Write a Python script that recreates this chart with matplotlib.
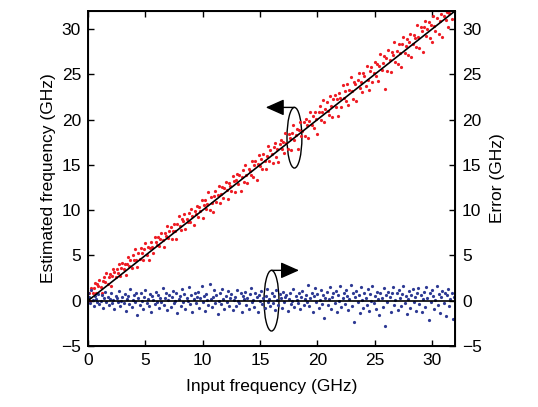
import numpy as np
import matplotlib
matplotlib.use("Agg")
import matplotlib.pyplot as plt
from matplotlib.patches import Ellipse

# deviation of the estimate from the input (red points sit at input + deviation)
est_dev = [
    0.3, 0.8, -0.2, 1.1, 0.5, 0.9, 1.4, 0.2, 1.0, 0.7, 1.3, 0.4, -0.3, 0.9, 1.2, 0.6, 1.5, 0.1, 0.8, 1.1, -0.4, 0.6, 1.3, 0.9, 0.2, 1.0, 0.5, 1.4, -0.1, 0.7, 1.2, 0.4,
    0.9, -0.5, 0.6, 1.3, 0.2, 0.8, -0.2, 1.1, 0.5, 1.6, 0.3, -0.6, 0.9, 0.1, 1.2, 0.6, -0.3, 0.8, 1.4, 0.0, 0.7, -0.8, 0.4, 1.0, 0.3, -0.4, 1.2, 0.6, 0.1, 0.9, -0.2, 0.5,
    1.1, 0.2, -0.7, 0.8, 0.4, 1.3, -0.1, 0.6, 0.9, -0.5, 0.3, 1.0, 0.1, -0.9, 0.7, 1.4, 0.2, -0.3, 0.8, 0.5, 1.2, -0.6, 0.4, 0.0, 0.9, -0.2, 1.1, 0.3, -0.8, 0.6, 0.2, 1.0,
    -0.4, 0.7, 0.1, 1.2, -0.9, 0.5, 0.9, -0.2, 0.3, 1.5, -0.6, 0.8, 0.0, -1.1, 0.6, 1.0, -0.3, 0.4, 1.3, -0.7, 0.2, 0.9, -0.5, 0.6, 1.1, 0.1, -1.0, 0.7, 0.3, -0.4, 1.2, 0.5,
    -0.8, 0.4, 1.0, -0.2, 0.7, -1.2, 0.3, 0.9, -0.5, 1.3, 0.1, -0.9, 0.6, 0.2, -0.3, 1.1, -0.7, 0.5, 0.8, -1.4, 0.3, 1.2, -0.1, 0.6, -0.6, 0.9, 0.0, -1.0, 0.4, 1.4, -0.4, 0.7,
    0.2, -0.9, 0.8, 1.1, -0.5, 0.3, -1.3, 0.6, 1.0, -0.2, 0.5, -0.8, 1.3, 0.1, -0.6, 0.9, 0.4, -1.1, 0.7, 1.5, -0.3, 0.2, 0.8, -1.5, 0.5, 1.2, -0.4, 0.0, 0.9, -0.7, 1.1, 0.3,
    -1.2, 0.6, 1.4, -0.1, 0.8, -0.6, 1.0, 0.2, -1.6, 0.7, 1.3, -0.3, 0.4, 1.7, -0.9, 0.5, 1.1, 0.0, -0.5, 1.5, 0.3, -1.0, 0.9, 1.2, -0.2, 0.6, -1.4, 1.0, 0.4, -0.7, 1.6, 0.1,
    0.8, -0.4, 1.3, -1.1, 0.5, 1.8, 0.2, -0.8, 1.0, 0.6, -1.3, 0.9, 1.5, -0.2, 0.4, -0.9, 1.2, 0.7, -0.5, 1.6, 0.0, -1.2, 0.8, 1.1, -0.6, 0.3, 1.4, -0.3, 0.9, -1.0, 0.5, 1.7,
    -0.1, 0.6, 1.2, -2.5, 0.8, -0.7, 1.5, 0.3, -1.1, 1.0, 0.5, 1.9, -0.4, 0.7, -0.9, 1.3, 0.2, -1.5, 0.9, 1.6, -0.2, 0.4, 1.1, -0.8, 0.6, 1.4, -1.3, 0.0, 1.0, 0.5, -0.6, 1.8,
    0.3, -1.0, 1.2, 0.7, -1.7, 0.9, 1.5, -0.3, 0.4, 1.1, -0.8, 0.6, -1.4, 1.3, 0.1, -0.5, 0.8, 1.6, -1.1, 0.2, 0.9, -1.8, 0.5, 1.0, -0.2, 0.6, -1.2, 0.3, 0.8, -0.6, 0.4, 0.1,
]

# error values (blue points)
error = [
    0.9, 0.4, -0.3, 1.2, 0.1, -0.6, 0.5, 0.2, -0.2, 0.7, -0.4, 0.0, 0.6, -0.8, 0.3, 1.0, -0.1, 0.4, -0.5, 0.2, 0.8, -0.3, 0.1, -0.9, 0.5, 0.3, -0.2, 1.1, -0.6, 0.0, 0.4, -0.3,
    0.7, -1.1, 0.2, 0.5, -0.4, 1.3, -0.7, 0.1, 0.6, -0.2, 0.9, -1.6, 0.3, -0.5, 0.8, 0.0, -0.9, 0.4, 1.2, -0.3, 0.2, -0.6, 0.7, -1.3, 0.5, 0.1, -0.4, 1.0, -0.1, 0.6, -0.8, 0.3,
    -0.2, 1.4, -0.5, 0.3, 0.8, -1.0, 0.1, 0.6, -0.7, 0.4, 1.1, -0.3, 0.0, 0.9, -1.4, 0.2, 0.5, -0.6, 1.3, -0.1, 0.7, -0.9, 0.3, 0.0, 1.5, -0.4, 0.6, -1.2, 0.2, 0.8, -0.3, 0.4,
    1.0, -0.8, 0.3, 1.6, -0.2, 0.5, -1.1, 0.7, 0.1, -0.5, 1.8, 0.2, -0.7, 0.4, 1.2, -0.3, 0.6, -1.5, 0.0, 0.9, -0.4, 1.3, 0.2, -0.9, 0.5, -0.1, 1.1, -0.6, 0.3, 0.7, -1.0, 0.1,
    0.4, -0.6, 1.2, 0.0, -0.3, 0.8, -1.2, 0.5, 0.2, 1.0, -0.5, 0.3, -0.9, 0.7, 1.4, -0.2, 0.1, -0.7, 0.9, 0.4, -1.3, 0.6, 0.0, 1.1, -0.4, 0.3, -0.8, 0.5, 1.3, -0.1, 0.2, -0.6,
    0.8, -0.3, 0.5, -1.0, 1.2, 0.1, -0.5, 0.7, 0.3, -0.8, 1.0, -0.2, 0.4, 0.6, -1.1, 0.2, 0.9, -0.4, 0.0, 1.3, -0.7, 0.5, 0.1, -0.3, 0.8, -0.9, 0.4, 1.1, -0.5, 0.2, 0.6, -0.1,
    1.7, -0.6, 0.3, 0.9, -1.2, 0.5, 1.4, -0.2, 0.7, -0.8, 0.1, 1.2, -0.4, 0.6, -1.9, 0.3, 1.0, -0.5, 0.2, 1.5, -0.9, 0.4, 0.8, -0.3, 1.1, -1.3, 0.6, 0.0, 1.6, -0.7, 0.3, 0.9,
    -0.4, 1.2, 0.5, -1.0, 0.2, 1.7, -0.6, 0.8, -2.4, 0.4, 1.1, -0.2, 0.6, -1.4, 1.5, 0.1, -0.8, 0.9, 0.3, -0.5, 1.3, -1.1, 0.7, 0.0, 1.6, -0.3, 0.5, -0.9, 1.0, 0.2, -1.6, 0.8,
    0.3, -0.7, 1.4, -2.8, 0.6, -0.2, 1.0, 0.4, -1.2, 0.8, 1.5, -0.5, 0.1, 0.9, -1.0, 1.2, 0.3, -0.6, 0.7, 1.6, -0.3, 0.5, -1.5, 0.2, 1.1, -0.8, 0.6, 1.3, -0.1, 0.4, -1.1, 0.9,
    1.4, -0.4, 0.6, -1.3, 0.2, 1.0, -0.7, 1.5, 0.3, -2.1, 0.8, -0.2, 1.2, 0.5, -0.9, 0.1, 1.6, -0.5, 0.7, -1.4, 0.4, 1.1, -0.3, 0.9, -1.7, 0.6, 1.3, -0.6, 0.2, 0.8, -2.0, 0.4,
]

# input frequency sweep, 0.1 GHz steps
f_red = np.arange(len(est_dev)) * 0.1
f_blue = np.arange(len(error)) * 0.1
estimated = f_red + np.array(est_dev)

xticks = [0, 5, 10, 15, 20, 25, 30]
yticks = [-5, 0, 5, 10, 15, 20, 25, 30]

plt.rcParams["font.family"] = ["Liberation Sans", "DejaVu Sans"]
plt.rcParams["font.size"] = 12.5

fig = plt.figure(figsize=(5.38, 4.07), dpi=100)
ax = fig.add_axes([0.1636, 0.150, 0.6821, 0.823])

ax.plot(f_red, estimated, ".", color="#ee1c24", ms=4.6, mew=0)
ax.plot(f_blue, error, ".", color="#2e3a94", ms=4.6, mew=0)
ax.plot([0, 32], [0, 32], color="black", lw=1.2)
ax.plot([0, 32], [0, 0], color="black", lw=1.2)

# ellipse + arrow markers (which axis each series belongs to)
for cx, cy, tip in [(18.0, 18.0, 15.5), (16.0, 0.0, 18.4)]:
    ax.add_patch(Ellipse((cx, cy), 1.3, 6.7, fill=False, ec="black", lw=1.0))
    ax.annotate("", xy=(tip, cy + 3.35), xytext=(cx, cy + 3.35),
                arrowprops=dict(arrowstyle="-|>,head_length=0.9,head_width=0.4",
                                color="black", lw=1.0, shrinkA=0, shrinkB=0))

ax.set_xlim(0, 32)
ax.set_ylim(-5, 32)
ax.set_xticks(xticks)
ax.set_yticks(yticks)
ax.set_yticklabels(["\u22125"] + [str(t) for t in yticks[1:]])
ax.tick_params(direction="in", length=4, width=1, top=True, pad=5)
for s in ax.spines.values():
    s.set_linewidth(1.4)
ax.set_xlabel("Input frequency (GHz)", labelpad=8)
ax.set_ylabel("Estimated frequency (GHz)", labelpad=4)

ax2 = ax.twinx()
ax2.set_ylim(-5, 32)
ax2.set_yticks(yticks)
ax2.set_yticklabels(["\u22125"] + [str(t) for t in yticks[1:]])
ax2.tick_params(direction="in", length=4, width=1, pad=5)
ax2.set_ylabel("Error (GHz)", labelpad=6)

fig.savefig("out.png", dpi=100)
